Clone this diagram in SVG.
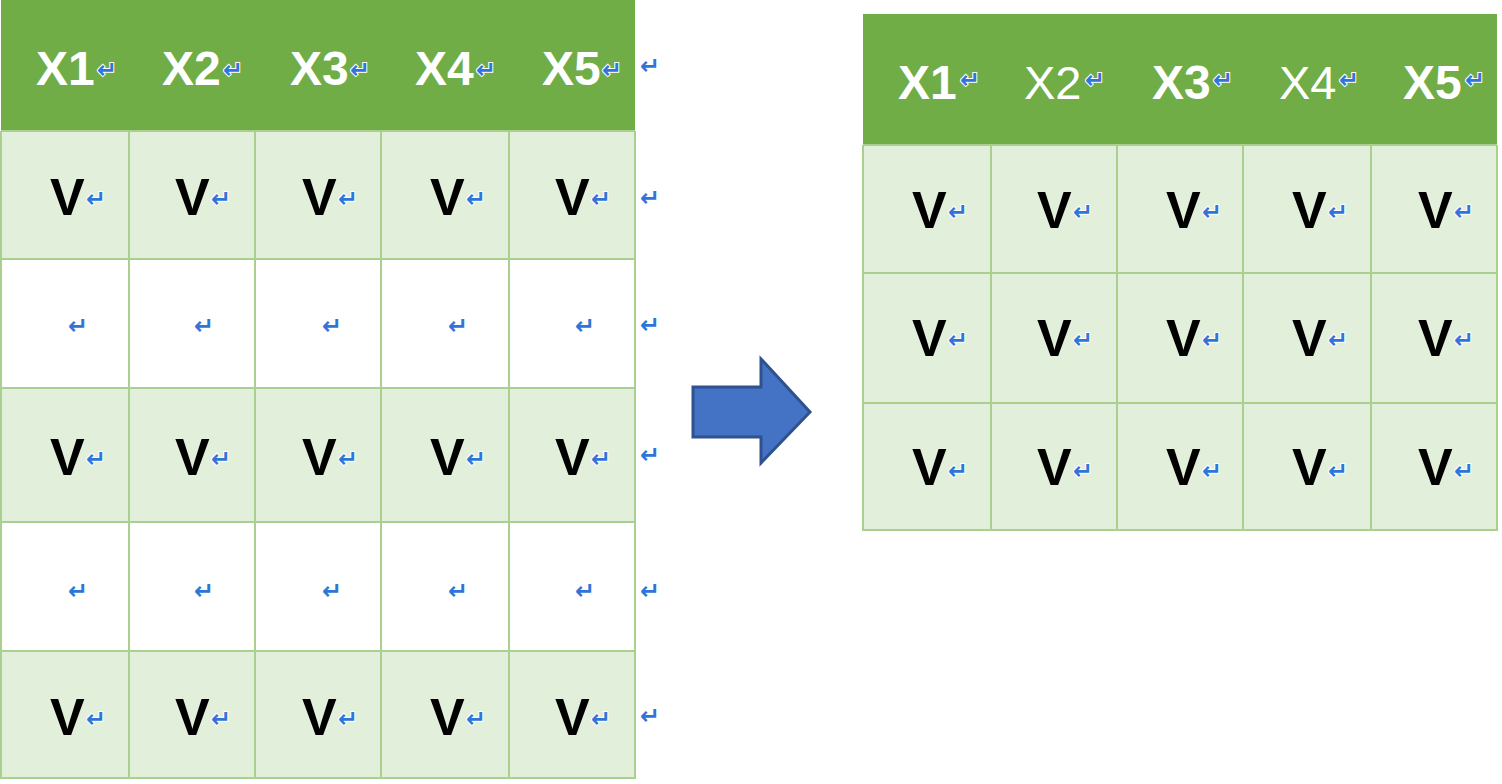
<svg xmlns="http://www.w3.org/2000/svg" width="1502" height="784" viewBox="0 0 1502 784">
<style>
.hdr{fill:#70AD47}
.lg{fill:#E2EFDA}
.wh{fill:#FFFFFF}
.grid{stroke:#A9D08E;stroke-width:2;fill:none}
.hx{font-family:"Liberation Sans",Arial,sans-serif;font-weight:bold;font-size:48px;fill:#FFFFFF}
.hxr{font-family:"Liberation Sans",Arial,sans-serif;font-weight:normal;font-size:47px;fill:#FFFFFF}
.v{font-family:"Liberation Sans",Arial,sans-serif;font-weight:bold;font-size:52px;fill:#000000}
.r{font-family:"DejaVu Sans",sans-serif;font-weight:bold;font-size:24px;fill:#2F74D8;stroke:#FFFFFF;stroke-width:2;paint-order:stroke}
.rn{font-family:"DejaVu Sans",sans-serif;font-weight:bold;font-size:24px;fill:#2F74D8}
</style>
<rect width="1502" height="784" fill="#FFFFFF"/>

<g id="left-table">
  <rect class="hdr" x="1" y="0" width="634" height="131"/>
  <rect class="lg" x="1" y="131" width="634" height="128"/>
  <rect class="wh" x="1" y="259" width="634" height="129"/>
  <rect class="lg" x="1" y="388" width="634" height="134"/>
  <rect class="wh" x="1" y="522" width="634" height="129"/>
  <rect class="lg" x="1" y="651" width="634" height="127"/>
  <path class="grid" d="M1,131 V778 H635 V131 M1,131 H635 M1,259 H635 M1,388 H635 M1,522 H635 M1,651 H635 M129,131 V778 M255,131 V778 M381,131 V778 M509,131 V778"/>
  <g id="left-header">
    <text class="hx" x="36" y="85">X1</text>
    <text class="hx" x="162" y="85">X2</text>
    <text class="hx" x="290" y="85">X3</text>
    <text class="hx" x="415" y="85">X4</text>
    <text class="hx" x="542" y="85">X5</text>
    <text class="r" x="97" y="78">↵</text>
    <text class="r" x="223" y="78">↵</text>
    <text class="r" x="350" y="78">↵</text>
    <text class="r" x="476" y="78">↵</text>
    <text class="r" x="602" y="78">↵</text>
  </g>
  <g id="left-row1">
    <text class="v" x="50" y="215">V</text><text class="r" x="86" y="207">↵</text>
    <text class="v" x="175" y="215">V</text><text class="r" x="211" y="207">↵</text>
    <text class="v" x="302" y="215">V</text><text class="r" x="338" y="207">↵</text>
    <text class="v" x="430" y="215">V</text><text class="r" x="466" y="207">↵</text>
    <text class="v" x="555" y="215">V</text><text class="r" x="591" y="207">↵</text>
  </g>
  <g id="left-row2">
    <text class="rn" x="68" y="334">↵</text>
    <text class="rn" x="194" y="334">↵</text>
    <text class="rn" x="322" y="334">↵</text>
    <text class="rn" x="448" y="334">↵</text>
    <text class="rn" x="575" y="334">↵</text>
  </g>
  <g id="left-row3">
    <text class="v" x="50" y="475">V</text><text class="r" x="86" y="467">↵</text>
    <text class="v" x="175" y="475">V</text><text class="r" x="211" y="467">↵</text>
    <text class="v" x="302" y="475">V</text><text class="r" x="338" y="467">↵</text>
    <text class="v" x="430" y="475">V</text><text class="r" x="466" y="467">↵</text>
    <text class="v" x="555" y="475">V</text><text class="r" x="591" y="467">↵</text>
  </g>
  <g id="left-row4">
    <text class="rn" x="68" y="599">↵</text>
    <text class="rn" x="194" y="599">↵</text>
    <text class="rn" x="322" y="599">↵</text>
    <text class="rn" x="448" y="599">↵</text>
    <text class="rn" x="575" y="599">↵</text>
  </g>
  <g id="left-row5">
    <text class="v" x="50" y="735">V</text><text class="r" x="86" y="727">↵</text>
    <text class="v" x="175" y="735">V</text><text class="r" x="211" y="727">↵</text>
    <text class="v" x="302" y="735">V</text><text class="r" x="338" y="727">↵</text>
    <text class="v" x="430" y="735">V</text><text class="r" x="466" y="727">↵</text>
    <text class="v" x="555" y="735">V</text><text class="r" x="591" y="727">↵</text>
  </g>
  <g id="left-row-marks">
    <text class="rn" x="640" y="74">↵</text>
    <text class="rn" x="640" y="206">↵</text>
    <text class="rn" x="640" y="333">↵</text>
    <text class="rn" x="640" y="463">↵</text>
    <text class="rn" x="640" y="599">↵</text>
    <text class="rn" x="640" y="724">↵</text>
  </g>
</g>

<g id="connectors">
  <path id="arrow" d="M693,387 H761 V359 L810,412 L761,463 V437 H693 Z" fill="#4472C4" stroke="#2F528F" stroke-width="3" stroke-linejoin="miter"/>
</g>

<g id="right-table">
  <rect class="hdr" x="863" y="14" width="634" height="131"/>
  <rect class="lg" x="863" y="145" width="634" height="385"/>
  <path class="grid" d="M863,145 V530 H1497 V145 M863,145 H1497 M863,273 H1497 M863,403 H1497 M991,145 V530 M1117,145 V530 M1243,145 V530 M1371,145 V530"/>
  <g id="right-header">
    <text class="hx" x="898" y="99">X1</text>
    <text class="hxr" x="1024" y="99">X2</text>
    <text class="hx" x="1152" y="99">X3</text>
    <text class="hxr" x="1279" y="99">X4</text>
    <text class="hx" x="1403" y="99">X5</text>
    <text class="r" x="960" y="88">↵</text>
    <text class="r" x="1085" y="88">↵</text>
    <text class="r" x="1213" y="88">↵</text>
    <text class="r" x="1339" y="88">↵</text>
    <text class="r" x="1465" y="88">↵</text>
  </g>
  <g id="right-row1">
    <text class="v" x="912" y="228">V</text><text class="r" x="948" y="220">↵</text>
    <text class="v" x="1037" y="228">V</text><text class="r" x="1073" y="220">↵</text>
    <text class="v" x="1166" y="228">V</text><text class="r" x="1202" y="220">↵</text>
    <text class="v" x="1292" y="228">V</text><text class="r" x="1328" y="220">↵</text>
    <text class="v" x="1418" y="228">V</text><text class="r" x="1454" y="220">↵</text>
  </g>
  <g id="right-row2">
    <text class="v" x="912" y="356">V</text><text class="r" x="948" y="348">↵</text>
    <text class="v" x="1037" y="356">V</text><text class="r" x="1073" y="348">↵</text>
    <text class="v" x="1166" y="356">V</text><text class="r" x="1202" y="348">↵</text>
    <text class="v" x="1292" y="356">V</text><text class="r" x="1328" y="348">↵</text>
    <text class="v" x="1418" y="356">V</text><text class="r" x="1454" y="348">↵</text>
  </g>
  <g id="right-row3">
    <text class="v" x="912" y="485">V</text><text class="r" x="948" y="479">↵</text>
    <text class="v" x="1037" y="485">V</text><text class="r" x="1073" y="479">↵</text>
    <text class="v" x="1166" y="485">V</text><text class="r" x="1202" y="479">↵</text>
    <text class="v" x="1292" y="485">V</text><text class="r" x="1328" y="479">↵</text>
    <text class="v" x="1418" y="485">V</text><text class="r" x="1454" y="479">↵</text>
  </g>
</g>
</svg>
